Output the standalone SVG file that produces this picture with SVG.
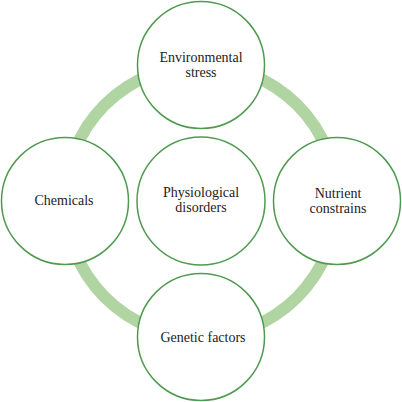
<svg xmlns="http://www.w3.org/2000/svg" width="402" height="402" viewBox="0 0 402 402">
<style>
.node{fill:#ffffff;stroke:#4f9a4f;stroke-width:1.5}
.lbl{font-size:14px;fill:#222222;text-anchor:middle}
</style>
<rect width="402" height="402" fill="#ffffff"/>
<g id="connectors">
<circle cx="201" cy="201" r="136" fill="none" stroke="#b0d5a3" stroke-width="12"/>
</g>
<g font-family="Liberation Serif, DejaVu Serif, serif">
<g id="env"><circle class="node" cx="201" cy="65" r="63.5"/><text class="lbl" x="201" y="62">Environmental</text><text class="lbl" x="201" y="77">stress</text></g>
<g id="chem"><circle class="node" cx="65" cy="201" r="63.5"/><text class="lbl" x="64" y="205">Chemicals</text></g>
<g id="phys"><circle class="node" cx="201" cy="201" r="64"/><text class="lbl" x="201" y="197">Physiological</text><text class="lbl" x="201" y="212">disorders</text></g>
<g id="nutr"><circle class="node" cx="337" cy="201" r="63.5"/><text class="lbl" x="338" y="198">Nutrient</text><text class="lbl" x="338" y="213">constrains</text></g>
<g id="gen"><circle class="node" cx="201" cy="337" r="63.5"/><text class="lbl" x="203" y="342">Genetic factors</text></g>
</g>
</svg>
